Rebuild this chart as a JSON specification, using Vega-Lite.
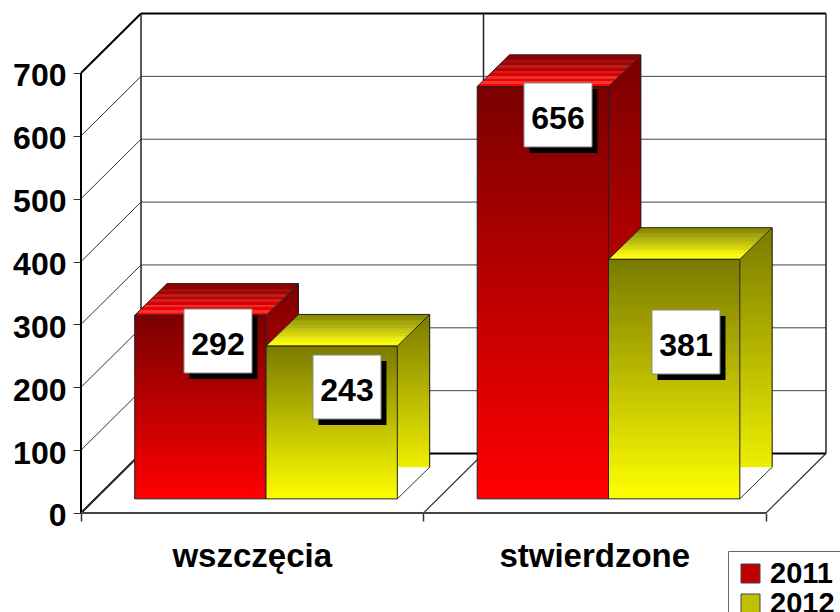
{
"$schema":"https://vega.github.io/schema/vega-lite/v6.json",
"width":840,"height":612,"padding":0,"autosize":{"type":"none"},"background":"white",
"config":{"view":{"stroke":null},"font":"Liberation Sans"},
"resolve":{"axis":{"x":"independent","y":"independent"}},
"datasets":{
"bars":[
{"category":"wszczęcia","year":2011,"value":292},
{"category":"wszczęcia","year":2012,"value":243},
{"category":"stwierdzone","year":2011,"value":656},
{"category":"stwierdzone","year":2012,"value":381}],
"yticks":[{"v":0},{"v":100},{"v":200},{"v":300},{"v":400},{"v":500},{"v":600},{"v":700}],
"xticks":[{"t":0},{"t":1},{"t":2}]},
"layer":[
{"data":{"name":"yticks"},"transform":[{"filter":"datum.v>0 && datum.v<700"},{"calculate":"datum.v+94.6","as":"b"}],
 "mark":{"type":"rule","stroke":"#444","strokeWidth":1},
 "encoding":{
  "x":{"datum":0.1752,"type":"quantitative","scale":{"domain":[-0.2365,2.2161],"nice":false,"zero":false},
   "axis":{"values":[0,1,2],"labels":false,"domain":false,"grid":false,"title":null,"tickSize":8,"tickColor":"#333","tickWidth":1.5,"offset":-99}},
  "x2":{"datum":2.1752},
  "y":{"field":"b","type":"quantitative","scale":{"domain":[-157.5,816.1],"nice":false,"zero":false},
   "axis":{"values":[0,100,200,300,400,500,600,700],"domain":false,"grid":false,"title":null,"tickSize":8,"tickColor":"#333","tickWidth":1,"offset":-81,"labelFont":"Liberation Sans","labelFontWeight":"bold","labelFontSize":32,"labelColor":"#000","labelPadding":7,"labelOffset":3}}}},
{"data":{"name":"yticks"},"transform":[{"calculate":"datum.v+94.6","as":"b"}],
 "mark":{"type":"rule","stroke":"#333","strokeWidth":1},
 "encoding":{"x":{"datum":0,"type":"quantitative","axis":null},"x2":{"datum":0.1752},"y":{"field":"v","type":"quantitative","axis":null},"y2":{"field":"b"}}},
{"data":{"name":"yticks"},"transform":[{"filter":"datum.v==0 || datum.v==700"},{"calculate":"datum.v+94.6","as":"b"}],
 "mark":{"type":"rule","stroke":"#000","strokeWidth":2},
 "encoding":{"x":{"datum":0.1752,"type":"quantitative","axis":null},"x2":{"datum":2.1752},"y":{"field":"b","type":"quantitative","axis":null}}},
{"data":{"name":"yticks"},"transform":[{"filter":"datum.v==0 || datum.v==700"},{"calculate":"datum.v+94.6","as":"b"}],
 "mark":{"type":"rule","stroke":"#000","strokeWidth":2},
 "encoding":{"x":{"datum":0,"type":"quantitative","axis":null},"x2":{"datum":0.1752},"y":{"field":"v","type":"quantitative","axis":null},"y2":{"field":"b"}}},
{"data":{"name":"xticks"},"transform":[{"calculate":"datum.t+0.1752","as":"bx"}],
 "mark":{"type":"rule","stroke":"#333","strokeWidth":1.2},
 "encoding":{"x":{"field":"t","type":"quantitative","axis":null},"x2":{"field":"bx"},"y":{"datum":0,"type":"quantitative","axis":null},"y2":{"datum":94.6}}},
{"data":{"name":"xticks"},"transform":[{"calculate":"datum.t+0.1752","as":"bx"}],
 "mark":{"type":"rule","stroke":"#222","strokeWidth":1.5},
 "encoding":{"x":{"field":"bx","type":"quantitative","axis":null},"y":{"datum":94.6,"type":"quantitative","axis":null},"y2":{"datum":794.6}}},
{"data":{"name":"xticks"},"transform":[{"filter":"datum.t==0"}],
 "mark":{"type":"rule","stroke":"#000","strokeWidth":2},
 "encoding":{"x":{"field":"t","type":"quantitative","axis":null},"y":{"datum":0,"type":"quantitative","axis":null},"y2":{"datum":700}}},
{"data":{"name":"xticks"},"transform":[{"filter":"datum.t==0"}],
 "mark":{"type":"rule","stroke":"#444","strokeWidth":2},
 "encoding":{"x":{"datum":0,"type":"quantitative","axis":null},"x2":{"datum":2},"y":{"datum":0,"type":"quantitative","axis":null}}},
{"data":{"name":"bars"},
 "transform":[
  {"calculate":"datum.category=='wszczęcia'?0:1","as":"i"},
  {"calculate":"datum.i+0.1568+(datum.year-2011)*0.3834","as":"x0"},
  {"calculate":"datum.x0+0.3834","as":"x1"},
  {"calculate":"22.5","as":"base"},
  {"calculate":"datum.base+datum.value","as":"top"},
  {"calculate":"datum.x1+0.0945","as":"x1b"},
  {"calculate":"datum.x0+0.0945","as":"x0b"},
  {"calculate":"datum.top+50.4","as":"topb"},
  {"calculate":"datum.base+50.4","as":"baseb"},
  {"calculate":"{'292':0.400,'243':0.7766,'656':1.3927,'381':1.7664}[datum.value]","as":"lx"},
  {"calculate":"{'292':273.6,'243':200.4,'656':633.2,'381':272}[datum.value]","as":"ly"}
 ],
 "layer":[
  {"transform":[{"calculate":"[0,1]","as":"t"},{"flatten":["t"]},
    {"calculate":"datum.t==0?datum.x1:datum.x1b","as":"px"},{"calculate":"datum.t==0?datum.top:datum.topb","as":"py"}],
   "mark":{"type":"area"},
   "encoding":{"x":{"field":"px","type":"quantitative","axis":null},"y":{"field":"py","type":"quantitative","axis":null,"stack":null},"y2":{"field":"baseb"},
    "detail":[{"field":"category"},{"field":"year"}],
    "color":{"condition":{"test":"datum.year==2011","value":{"gradient":"linear","x1":0,"y1":0,"x2":0,"y2":1,"stops":[{"offset":0,"color":"#7a0000"},{"offset":1,"color":"#f00000"}]}},
      "value":{"gradient":"linear","x1":0,"y1":0,"x2":0,"y2":1,"stops":[{"offset":0,"color":"#7a7a00"},{"offset":1,"color":"#eeee00"}]}}}},
  {"mark":{"type":"rule","stroke":"#111","strokeWidth":1},
   "encoding":{"x":{"field":"x1b","type":"quantitative","axis":null},"y":{"field":"topb","type":"quantitative","axis":null},"y2":{"field":"baseb"}}},
  {"mark":{"type":"rule","stroke":"#333","strokeWidth":1},
   "encoding":{"x":{"field":"x1","type":"quantitative","axis":null},"x2":{"field":"x1b"},"y":{"field":"base","type":"quantitative","axis":null},"y2":{"field":"baseb"}}},
  {"transform":[{"filter":"datum.year==2011"},{"calculate":"[0,1]","as":"t"},{"flatten":["t"]},
    {"calculate":"datum.t==0?datum.x0:datum.x0b","as":"pa"},{"calculate":"datum.t==0?datum.x1:datum.x1b","as":"pb"},{"calculate":"datum.t==0?datum.top:datum.topb","as":"py"}],
   "mark":{"type":"area","orient":"horizontal","stroke":"#222","strokeWidth":1,
     "fill":{"gradient":"linear","x1":0,"y1":1,"x2":0,"y2":0,"stops":[
      {"offset":0,"color":"#ff0000"},{"offset":0.083,"color":"#ff0000"},{"offset":0.083,"color":"#ff3030"},{"offset":0.167,"color":"#ff3030"},{"offset":0.167,"color":"#f00000"},{"offset":0.25,"color":"#f00000"},{"offset":0.25,"color":"#e83030"},{"offset":0.333,"color":"#e83030"},{"offset":0.333,"color":"#d80000"},{"offset":0.417,"color":"#d80000"},{"offset":0.417,"color":"#d02020"},{"offset":0.5,"color":"#d02020"},{"offset":0.5,"color":"#c00000"},{"offset":0.583,"color":"#c00000"},{"offset":0.583,"color":"#b82020"},{"offset":0.667,"color":"#b82020"},{"offset":0.667,"color":"#a80000"},{"offset":0.75,"color":"#a80000"},{"offset":0.75,"color":"#a01010"},{"offset":0.833,"color":"#a01010"},{"offset":0.833,"color":"#900000"},{"offset":1,"color":"#8a0000"}]}},
   "encoding":{"y":{"field":"py","type":"quantitative","axis":null,"stack":null},"x":{"field":"pa","type":"quantitative","axis":null},"x2":{"field":"pb"},"detail":{"field":"category"}}},
  {"transform":[{"filter":"datum.year==2012"},{"calculate":"[0,1]","as":"t"},{"flatten":["t"]},
    {"calculate":"datum.t==0?datum.x0:datum.x0b","as":"pa"},{"calculate":"datum.t==0?datum.x1:datum.x1b","as":"pb"},{"calculate":"datum.t==0?datum.top:datum.topb","as":"py"}],
   "mark":{"type":"area","orient":"horizontal","stroke":"#222","strokeWidth":1,
     "fill":{"gradient":"linear","x1":0,"y1":1,"x2":0,"y2":0,"stops":[
      {"offset":0,"color":"#ffff00"},{"offset":0.083,"color":"#ffff00"},{"offset":0.083,"color":"#f8f820"},{"offset":0.167,"color":"#f8f820"},{"offset":0.167,"color":"#f0f000"},{"offset":0.25,"color":"#f0f000"},{"offset":0.25,"color":"#e0e020"},{"offset":0.333,"color":"#e0e020"},{"offset":0.333,"color":"#d8d800"},{"offset":0.417,"color":"#d8d800"},{"offset":0.417,"color":"#c8c820"},{"offset":0.5,"color":"#c8c820"},{"offset":0.5,"color":"#c0c000"},{"offset":0.583,"color":"#c0c000"},{"offset":0.583,"color":"#b0b020"},{"offset":0.667,"color":"#b0b020"},{"offset":0.667,"color":"#a8a800"},{"offset":0.75,"color":"#a8a800"},{"offset":0.75,"color":"#a0a010"},{"offset":0.833,"color":"#a0a010"},{"offset":0.833,"color":"#909000"},{"offset":1,"color":"#8a8a00"}]}},
   "encoding":{"y":{"field":"py","type":"quantitative","axis":null,"stack":null},"x":{"field":"pa","type":"quantitative","axis":null},"x2":{"field":"pb"},"detail":{"field":"category"}}},
  {"mark":{"type":"rect","stroke":"#222","strokeWidth":1},
   "encoding":{"x":{"field":"x0","type":"quantitative","axis":null},"x2":{"field":"x1"},"y":{"field":"base","type":"quantitative","axis":null},"y2":{"field":"top"},
    "color":{"condition":{"test":"datum.year==2011","value":{"gradient":"linear","x1":0,"y1":0,"x2":0,"y2":1,"stops":[{"offset":0,"color":"#7a0000"},{"offset":1,"color":"#ff0000"}]}},
      "value":{"gradient":"linear","x1":0,"y1":0,"x2":0,"y2":1,"stops":[{"offset":0,"color":"#7a7a00"},{"offset":1,"color":"#ffff00"}]}}}},
  {"transform":[{"calculate":"datum.lx-0.0993+0.016","as":"a"},{"calculate":"datum.lx+0.0993+0.016","as":"b"},{"calculate":"datum.ly-50.9-9.5","as":"c"},{"calculate":"datum.ly+50.9-9.5","as":"d"}],
   "mark":{"type":"rect","fill":"#000"},
   "encoding":{"x":{"field":"a","type":"quantitative","axis":null},"x2":{"field":"b"},"y":{"field":"c","type":"quantitative","axis":null},"y2":{"field":"d"}}},
  {"transform":[{"calculate":"datum.lx-0.0993","as":"a"},{"calculate":"datum.lx+0.0993","as":"b"},{"calculate":"datum.ly-50.9","as":"c"},{"calculate":"datum.ly+50.9","as":"d"}],
   "mark":{"type":"rect","fill":"#fff","stroke":"#888","strokeWidth":1},
   "encoding":{"x":{"field":"a","type":"quantitative","axis":null},"x2":{"field":"b"},"y":{"field":"c","type":"quantitative","axis":null},"y2":{"field":"d"}}},
  {"transform":[{"calculate":"datum.ly-22","as":"ty"}],
   "mark":{"type":"text","font":"Liberation Sans","fontWeight":"bold","fontSize":32,"color":"#000","align":"center","baseline":"alphabetic"},
   "encoding":{"x":{"field":"lx","type":"quantitative","axis":null},"y":{"field":"ty","type":"quantitative","axis":null},"text":{"field":"value","type":"nominal"}}},
  {"transform":[{"filter":"datum.year==2011"},{"calculate":"datum.i+0.5","as":"cx"},{"calculate":"-85.9","as":"cy"}],
   "mark":{"type":"text","font":"Liberation Sans","fontWeight":"bold","fontSize":33,"color":"#000","align":"center","baseline":"alphabetic"},
   "encoding":{"x":{"field":"cx","type":"quantitative","axis":null},"y":{"field":"cy","type":"quantitative","axis":null},"text":{"field":"category","type":"nominal"}}},
  {"mark":{"type":"rect","opacity":0},
   "encoding":{"x":{"field":"x0","type":"quantitative","axis":null},"x2":{"field":"x1"},"y":{"field":"base","type":"quantitative","axis":null},"y2":{"field":"top"},
    "color":{"field":"year","type":"nominal","scale":{"domain":[2011,2012],"range":["#c00000","#c0c000"]},
     "legend":{"orient":"none","legendX":728,"legendY":551,"title":null,"fillColor":"white","strokeColor":"#666","padding":8,"symbolType":"square","symbolSize":361,"symbolOpacity":1,"labelFont":"Liberation Sans","labelFontWeight":"bold","labelFontSize":29,"labelColor":"#000","labelOffset":5,"rowPadding":0,
      "encoding":{"symbols":{"opacity":{"value":1},"stroke":{"value":"#444"},"strokeWidth":{"value":1},"fill":{"signal":"datum.value==2011?{gradient:'linear',x1:0,y1:0,x2:0,y2:1,stops:[{offset:0,color:'#7a0000'},{offset:1,color:'#ff0000'}]}:{gradient:'linear',x1:0,y1:0,x2:0,y2:1,stops:[{offset:0,color:'#7a7a00'},{offset:1,color:'#ffff00'}]}"}}}}}}}
 ]}
]}
